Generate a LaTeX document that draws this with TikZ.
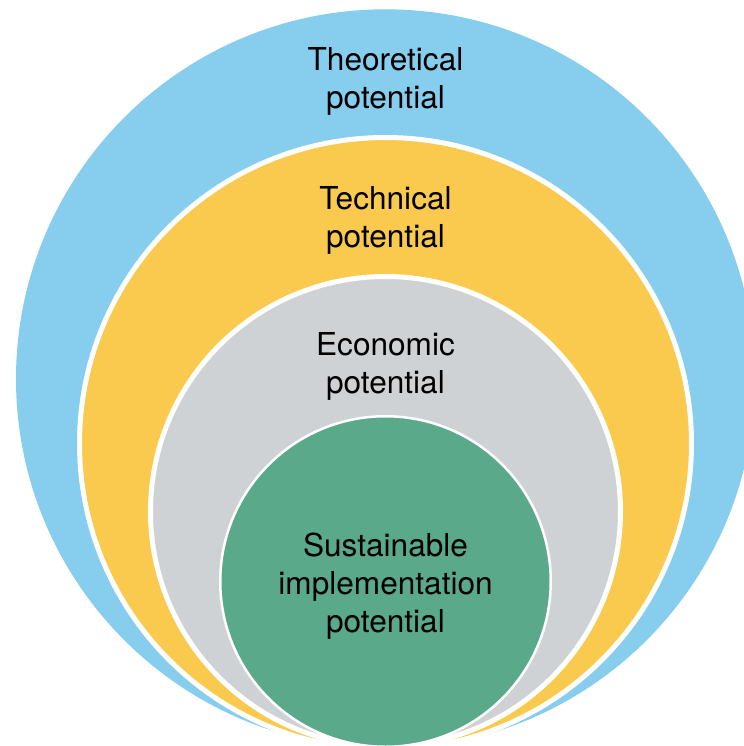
\documentclass[tikz,border=0pt]{standalone}
\usepackage{fontspec}
\setmainfont{TeX Gyre Heros}
\definecolor{theoblue}{RGB}{135,205,238}
\definecolor{techyellow}{RGB}{249,202,77}
\definecolor{econgrey}{RGB}{207,210,213}
\definecolor{sustgreen}{RGB}{90,169,138}
\begin{document}
\begin{tikzpicture}[x=0.5pt,y=-0.5pt]
	\tikzstyle{ring}=[circle,inner sep=0pt,outer sep=0pt,draw=white,line width=2.5pt]
	\tikzstyle{core}=[circle,inner sep=0pt,outer sep=0pt,draw=white,line width=1.25pt]
	\tikzstyle{label}=[align=center,inner sep=0pt,font=\fontsize{15.8}{19}\selectfont]
	\clip (0,0) rectangle (744,746);
	\node[circle,inner sep=0pt,fill=theoblue,minimum size=369.5pt] (theo) at (385.5,378.8) {};
	\node[ring,fill=techyellow,minimum size=306pt] (tech) at (385.5,443.5) {};
	\node[ring,fill=econgrey,minimum size=235pt] (econ) at (385.5,511.5) {};
	\node[core,fill=sustgreen,minimum size=165.25pt] (sust) at (385.5,581.5) {};
	\node[label] (theo-text) at (385.5,81) {Theoretical\\potential};
	\node[label] (tech-text) at (385.5,220) {Technical\\potential};
	\node[label] (econ-text) at (385.5,366.5) {Economic\\potential};
	\node[label] (sust-text) at (385.5,586) {Sustainable\\implementation\\potential};
\end{tikzpicture}
\end{document}
